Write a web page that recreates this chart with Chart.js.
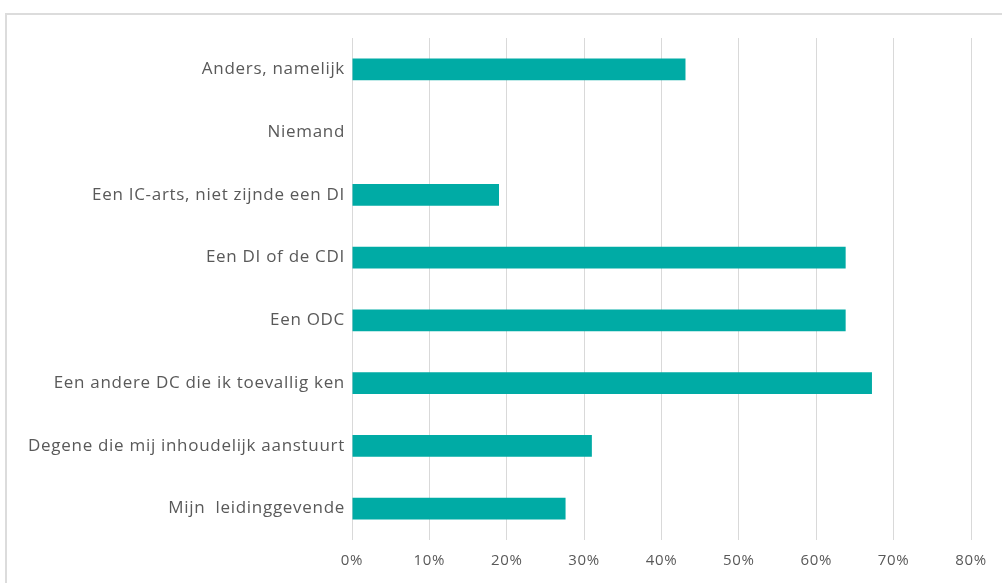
<!DOCTYPE html>
<html>
<head>
<meta charset="utf-8">
<script src="https://cdn.jsdelivr.net/npm/chart.js@4/dist/chart.umd.min.js"></script>
<style>
  html, body { margin: 0; padding: 0; background: #fff; overflow: hidden; }
  #frame {
    position: absolute; left: 5px; top: 13px; width: 1100px; height: 700px;
    border-left: 2px solid #dcdcdc; border-top: 2px solid #dcdcdc;
  }
  #wrap { position: absolute; left: 0; top: 0; width: 1002px; height: 583px; }
</style>
</head>
<body>
<div id="frame"></div>
<div id="wrap"><canvas id="barChart"></canvas></div>
<script>
// categories, top to bottom
const categories = [
  'Anders, namelijk',
  'Niemand',
  'Een IC-arts, niet zijnde een DI',
  'Een DI of de CDI',
  'Een ODC',
  'Een andere DC die ik toevallig ken',
  'Degene die mij inhoudelijk aanstuurt',
  'Mijn  leidinggevende'
];
// share of respondents (%)
const shares = [43.1, 0, 19.0, 63.8, 63.8, 67.2, 31.0, 27.6];
const xTicks = [0, 10, 20, 30, 40, 50, 60, 70, 80];

const textColor = '#595959';
const fontFamily = '"Open Sans", sans-serif';

// the original labels are a bit airier than Open Sans
const spacingPlugin = {
  id: 'letterSpacing',
  beforeDraw: (chart) => { chart.ctx.letterSpacing = '0.7px'; }
};

const ctx = document.getElementById('barChart').getContext('2d');
new Chart(ctx, {
  type: 'bar',
  data: {
    labels: categories,
    datasets: [{
      data: shares,
      backgroundColor: '#00aba5',
      borderWidth: 0,
      barPercentage: 0.7,
      categoryPercentage: 0.5
    }]
  },
  options: {
    indexAxis: 'y',
    responsive: true,
    maintainAspectRatio: false,
    animation: false,
    layout: { padding: { left: 0, right: 31, top: 38, bottom: 0 } },
    plugins: {
      legend: { display: false },
      tooltip: { enabled: false }
    },
    scales: {
      x: {
        min: 0,
        max: 80,
        afterBuildTicks: (scale) => { scale.ticks = xTicks.map(v => ({ value: v })); },
        afterFit: (scale) => { scale.height = 43; },
        grid: { color: '#d9d9d9', lineWidth: 1, drawTicks: false },
        border: { display: false },
        ticks: {
          padding: 12,
          color: textColor,
          font: { family: fontFamily, size: 15 },
          callback: (v) => v + '%'
        }
      },
      y: {
        afterFit: (scale) => { scale.width = 352; },
        grid: { display: false, drawTicks: false },
        border: { display: false },
        ticks: {
          padding: 7,
          color: textColor,
          font: { family: fontFamily, size: 17 }
        }
      }
    }
  },
  plugins: [spacingPlugin]
});
</script>
</body>
</html>
